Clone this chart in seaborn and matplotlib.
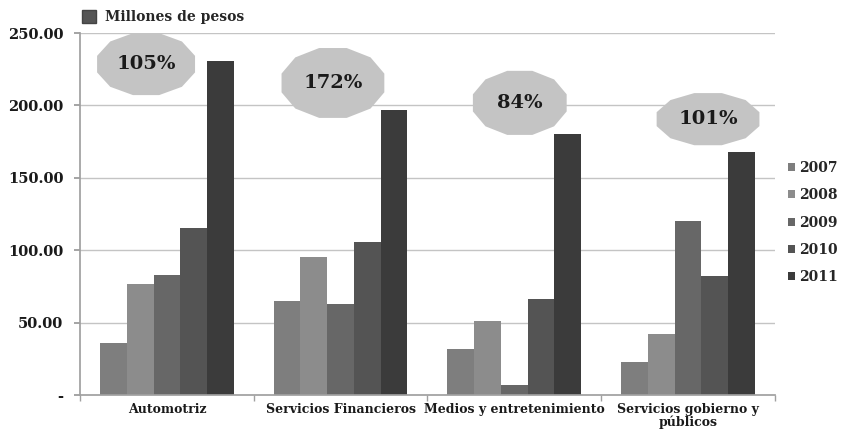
import numpy as np
import pandas as pd
import seaborn as sns
import matplotlib
matplotlib.use("Agg")
import matplotlib.pyplot as plt
from matplotlib.patches import Polygon, Patch

categories = ["Automotriz", "Servicios Financieros", "Medios y entretenimiento",
              "Servicios gobierno y\npúblicos"]
years = ["2007", "2008", "2009", "2010", "2011"]
v2007 = [36, 65, 32, 23]
v2008 = [77, 95, 51, 42]
v2009 = [83, 63, 7, 120]
v2010 = [115, 106, 66, 82]
v2011 = [231, 197, 180, 168]
growth_labels = ["105%", "172%", "84%", "101%"]
yticks = [0, 50, 100, 150, 200, 250]
ytick_labels = ["-", "50.00", "100.00", "150.00", "200.00", "250.00"]
series_title = "Millones de pesos"

colors = ["#7e7e7e", "#8c8c8c", "#676767", "#545454", "#3b3b3b"]

sns.set_theme(style="white")
plt.rcParams["font.family"] = ["DejaVu Serif"]

rows = []
for y, vals in zip(years, [v2007, v2008, v2009, v2010, v2011]):
    for c, v in zip(categories, vals):
        rows.append({"cat": c, "year": y, "val": v})
df = pd.DataFrame(rows)

fig = plt.figure(figsize=(8.43, 4.32), dpi=100)
ax = fig.add_axes([0.095, 0.0856, 0.824, 0.838])

for yv in yticks[1:]:
    ax.axhline(yv, color="#c4c4c4", lw=1.0, zorder=0)

sns.barplot(data=df, x="cat", y="val", hue="year", palette=colors,
            width=0.77, gap=0, ax=ax, legend=False, saturation=1,
            errorbar=None, edgecolor="none", linewidth=0, zorder=2)

ax.set_ylim(0, 250)
ax.set_xlim(-0.5, 3.5)
ax.set_yticks(yticks)
ax.set_yticklabels(ytick_labels, fontsize=10.5, fontweight="bold", color="#1a1a1a")
ax.set_xticks(range(len(categories)))
ax.set_xticklabels(categories, fontsize=9, fontweight="bold", color="#1a1a1a",
                   linespacing=0.95)
# category boundary ticks as minor ticks
ax.set_xticks([-0.5, 0.5, 1.5, 2.5, 3.5], minor=True)
ax.tick_params(axis="x", which="major", length=0, pad=6)
ax.tick_params(axis="x", which="minor", length=4, color="#a0a0a0", bottom=True,
               direction="out", width=1)
ax.tick_params(axis="y", length=4, color="#999999", pad=8, direction="out", left=True)
ax.set_xlabel("")
ax.set_ylabel("")
for s in ["top", "right"]:
    ax.spines[s].set_visible(False)
ax.spines["left"].set_color("#a0a0a0")
ax.spines["bottom"].set_color("#a0a0a0")

# octagon-like badges (axes fraction: cx, cy, w, h)
badge_pos = [(0.095, 0.914, 0.141, 0.171), (0.364, 0.862, 0.148, 0.193),
             (0.633, 0.807, 0.135, 0.177), (0.904, 0.762, 0.148, 0.144)]
n = 12
ang = np.deg2rad(15 + 30 * np.arange(n))
for (cx, cy, w, h), lab in zip(badge_pos, growth_labels):
    xs = cx + (w / 2) * np.cos(ang) / np.cos(np.deg2rad(15))
    ys = cy + (h / 2) * np.sin(ang) / np.cos(np.deg2rad(15))
    poly = Polygon(np.column_stack([xs, ys]), closed=True, transform=ax.transAxes,
                   facecolor="#c4c4c4", edgecolor="none", zorder=3, clip_on=False)
    ax.add_patch(poly)
    ax.text(cx, cy, lab, transform=ax.transAxes, ha="center", va="center",
            fontsize=14, fontweight="bold", color="#1a1a1a", zorder=4)

# year legend
handles = [Patch(facecolor=c, edgecolor="none") for c in colors]
leg = fig.legend(handles, years, loc="upper left", bbox_to_anchor=(0.935, 0.627),
                 frameon=False, handlelength=0.5, handleheight=0.5,
                 handletextpad=0.3, labelspacing=0.95, borderpad=0, borderaxespad=0,
                 prop={"family": "DejaVu Serif", "weight": "bold", "size": 10})

# series title legend
leg2 = fig.legend([Patch(facecolor="#555555", edgecolor="#444444")], [series_title],
                  loc="upper left", bbox_to_anchor=(0.083, 1.005), frameon=False,
                  handlelength=1.0, handleheight=1.0, handletextpad=0.6,
                  prop={"family": "DejaVu Serif", "weight": "bold", "size": 10})

fig.savefig("out.png", dpi=100)
